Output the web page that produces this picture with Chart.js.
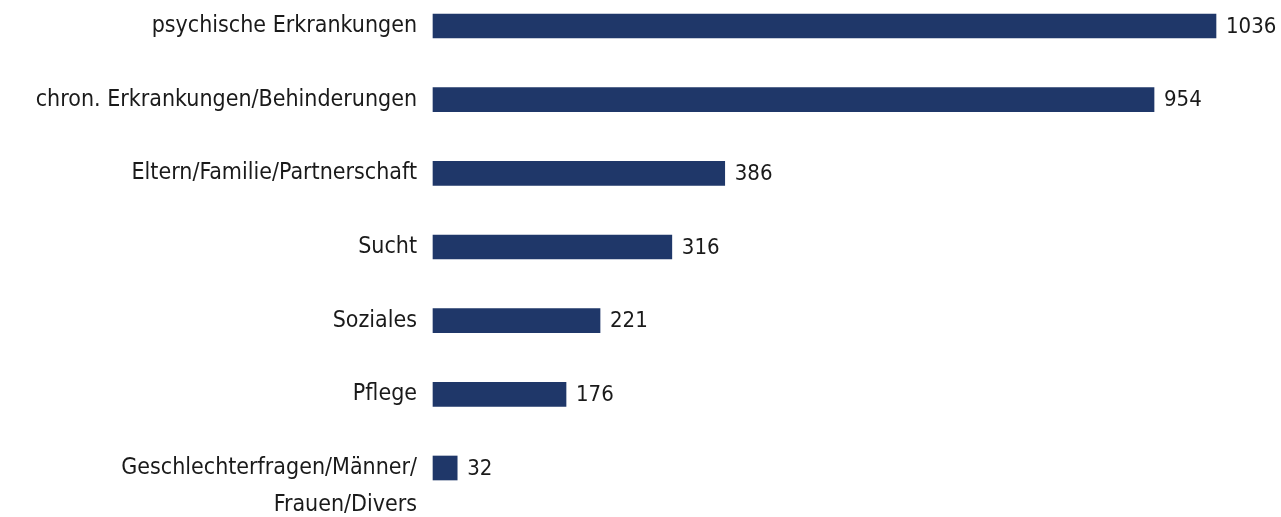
<!DOCTYPE html>
<html>
<head>
<meta charset="utf-8">
<script src="https://cdn.jsdelivr.net/npm/chart.js@4"></script>
<style>
  html, body { margin: 0; padding: 0; background: #fff; }
  #wrap { width: 1281px; height: 517px; }
</style>
</head>
<body>
<div id="wrap"><canvas id="chart" width="1281" height="517"></canvas></div>
<script>
const categories = [
  'psychische Erkrankungen',
  'chron. Erkrankungen/Behinderungen',
  'Eltern/Familie/Partnerschaft',
  'Sucht',
  'Soziales',
  'Pflege',
  ['', 'Geschlechterfragen/Männer/', 'Frauen/Divers']
];
const counts = [1036, 954, 386, 316, 221, 176, 32];

const barColor = '#1f3769';
const fontFamily = '"DejaVu Sans Condensed", "Liberation Sans Narrow", sans-serif';

// draws the number right after each bar
const valueLabels = {
  id: 'valueLabels',
  afterDatasetsDraw(chart) {
    const ctx = chart.ctx;
    const meta = chart.getDatasetMeta(0);
    ctx.save();
    ctx.font = '22px ' + fontFamily;
    ctx.fillStyle = '#1a1a1a';
    ctx.textAlign = 'left';
    ctx.textBaseline = 'middle';
    meta.data.forEach((bar, i) => {
      ctx.fillText(String(counts[i]), bar.x + 10, bar.y + 1);
    });
    ctx.restore();
  }
};

const ctx = document.getElementById('chart').getContext('2d');
new Chart(ctx, {
  type: 'bar',
  data: {
    labels: categories,
    datasets: [{
      data: counts,
      backgroundColor: barColor,
      barThickness: 24,
      clip: false
    }]
  },
  options: {
    indexAxis: 'y',
    responsive: false,
    animation: false,
    layout: { padding: { top: 26, bottom: 49, left: 0, right: 0 } },
    plugins: {
      legend: { display: false },
      tooltip: { enabled: false }
    },
    scales: {
      x: {
        display: false,
        min: 0,
        max: 1122
      },
      y: {
        offset: false,
        afterFit(scale) {
          scale.width = 433;
          scale.paddingTop = 0;
          scale.paddingBottom = 0;
        },
        grid: { display: false, drawTicks: false },
        border: { display: false },
        ticks: {
          autoSkip: false,
          padding: 16,
          color: '#1a1a1a',
          font: { family: fontFamily, size: 23, lineHeight: 1.6 }
        }
      }
    }
  },
  plugins: [valueLabels]
});
</script>
</body>
</html>
